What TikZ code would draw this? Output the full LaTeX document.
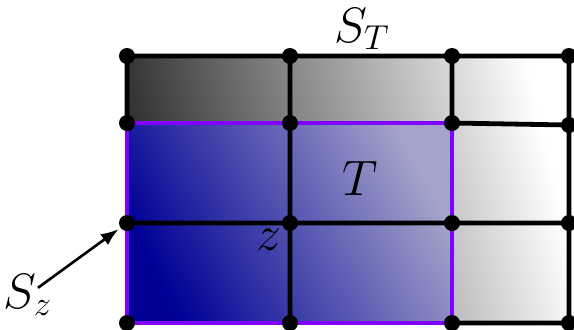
\documentclass[tikz,border=0pt]{standalone}
\usepackage{tikz}
\usetikzlibrary{arrows.meta,positioning}
\definecolor{GridPurple}{HTML}{7F00FF}
\definecolor{GridBlue}{HTML}{000096}
\definecolor{GridLilac}{HTML}{A4A4CA}
\definecolor{GridDark}{HTML}{2E2E2E}

\begin{document}
\begin{tikzpicture}[x=0.5pt,y=-0.5pt,>=Latex,
 vertex/.style={circle,fill=black,inner sep=0pt,minimum size=8pt},
 wire/.style={line width=2.4pt},
 rim/.style={draw=GridPurple,line width=2pt},
 lab/.style={inner sep=0pt,font=\fontsize{23}{27}\selectfont}]
\useasboundingbox (0,0) rectangle (574,329);
% grid points, rows a..d, columns 1..4
\coordinate (a1) at (127,56);  \coordinate (a2) at (290,56);  \coordinate (a3) at (452,56);  \coordinate (a4) at (569,56);
\coordinate (b1) at (127,123); \coordinate (b2) at (290,123); \coordinate (b3) at (452,123); \coordinate (b4) at (569,125);
\coordinate (c1) at (127,223); \coordinate (c2) at (290,223); \coordinate (c3) at (452,223); \coordinate (c4) at (569,223);
\coordinate (d1) at (127,323); \coordinate (d2) at (290,323); \coordinate (d3) at (452,323); \coordinate (d4) at (569,323);
% S_T and T
\shade[left color=GridDark,right color=white,shading angle=103] (a1) rectangle (d4);
\shade[left color=GridBlue,right color=GridLilac,shading angle=118] (b1) rectangle (d3);
\draw[rim] (b1) rectangle (d3);
\draw[wire] (a1) -- (a4) (a1) -- (b1) (a2) -- (d2) (a3) -- (b3) (a4) -- (d4)
  (b3) -- (b4) (c1) -- (c4) (d3) -- (d4);
\foreach \p in {a1,a2,a3,a4,b1,b2,b3,b4,c1,c2,c3,c4,d1,d2,d3,d4}
  \node[vertex] (v\p) at (\p) {};
% labels
\node[lab] (st) at (362,29) {$S_T$};
\node[lab,font=\fontsize{26}{31}\selectfont] (tl) at (360,178) {$T$};
\node[lab] (zl) at (269,240) {$z$};
\node[lab] (sz) at (28,295) {$S_z$};
\draw[->,line width=1.3pt,shorten <=-9pt,shorten >=1pt] (sz) -- (vc1);
\end{tikzpicture}
\end{document}
